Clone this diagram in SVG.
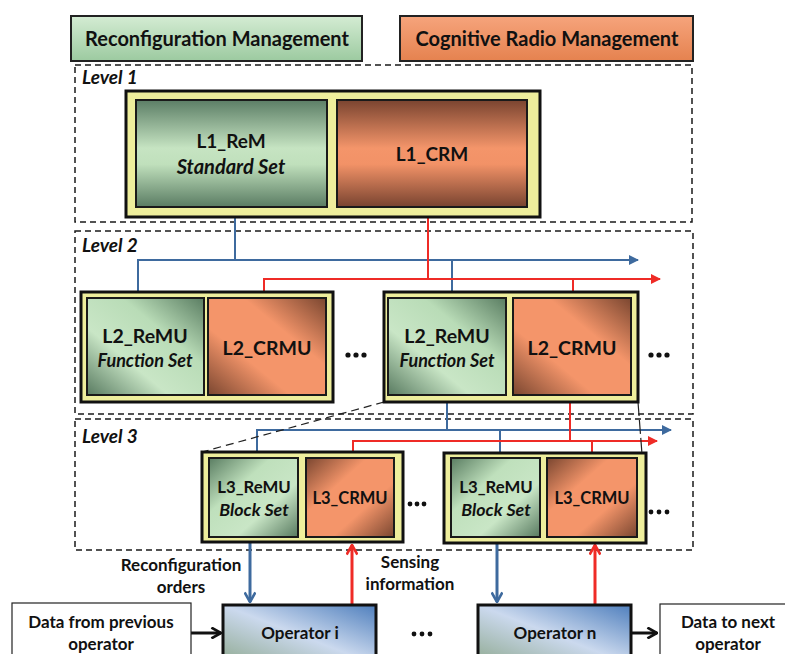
<svg xmlns="http://www.w3.org/2000/svg" width="785" height="654" viewBox="0 0 785 654">
<defs>
<linearGradient id="hdrG" x1="0" y1="0" x2="0" y2="1"><stop offset="0" stop-color="#d4ecd3"/><stop offset="1" stop-color="#9ccaa0"/></linearGradient>
<linearGradient id="hdrO" x1="0" y1="0" x2="0" y2="1"><stop offset="0" stop-color="#f6a47c"/><stop offset="1" stop-color="#e5824f"/></linearGradient>
<linearGradient id="g1" x1="0" y1="0" x2="0" y2="1"><stop offset="0" stop-color="#5c7e66"/><stop offset="0.45" stop-color="#c6e4c2"/><stop offset="0.6" stop-color="#c0e0bc"/><stop offset="1" stop-color="#5a7c63"/></linearGradient>
<linearGradient id="o1" x1="0" y1="0" x2="0" y2="1"><stop offset="0" stop-color="#7a4430"/><stop offset="0.45" stop-color="#f4956a"/><stop offset="0.6" stop-color="#f29267"/><stop offset="1" stop-color="#784330"/></linearGradient>
<linearGradient id="g2" x1="1" y1="0" x2="0" y2="1"><stop offset="0" stop-color="#5a7d62"/><stop offset="0.35" stop-color="#b9dcb7"/><stop offset="0.65" stop-color="#c9e6c6"/><stop offset="1" stop-color="#587a60"/></linearGradient>
<linearGradient id="o2" x1="1" y1="0" x2="0" y2="1"><stop offset="0" stop-color="#7a4630"/><stop offset="0.35" stop-color="#f4956a"/><stop offset="0.65" stop-color="#f4956a"/><stop offset="1" stop-color="#7a4630"/></linearGradient>
<linearGradient id="g3" x1="0" y1="0" x2="1" y2="1"><stop offset="0" stop-color="#5a7d62"/><stop offset="0.35" stop-color="#bfe0bc"/><stop offset="0.65" stop-color="#c9e6c6"/><stop offset="1" stop-color="#587a60"/></linearGradient>
<linearGradient id="o3" x1="0" y1="0" x2="1" y2="1"><stop offset="0" stop-color="#7a4630"/><stop offset="0.35" stop-color="#f4956a"/><stop offset="0.65" stop-color="#f4956a"/><stop offset="1" stop-color="#7a4630"/></linearGradient>
<linearGradient id="op" x1="1" y1="0" x2="0" y2="1"><stop offset="0" stop-color="#4f7fbd"/><stop offset="0.5" stop-color="#cbd9ee"/><stop offset="1" stop-color="#8fa990"/></linearGradient>
<marker id="ab" viewBox="0 0 10 10" refX="9" refY="5" markerWidth="5" markerHeight="5" orient="auto" markerUnits="strokeWidth"><path d="M0,0 L10,5 L0,10 z" fill="#3e6a9e"/></marker>
<marker id="ar" viewBox="0 0 10 10" refX="9" refY="5" markerWidth="5" markerHeight="5" orient="auto" markerUnits="strokeWidth"><path d="M0,0 L10,5 L0,10 z" fill="#ef2b26"/></marker>
<marker id="vb" viewBox="0 0 10 10" refX="9" refY="5" markerWidth="4" markerHeight="4" orient="auto" markerUnits="strokeWidth"><path d="M1,0.5 L9,5 L1,9.5" fill="none" stroke="#3e6a9e" stroke-width="2.2"/></marker>
<marker id="vr" viewBox="0 0 10 10" refX="9" refY="5" markerWidth="4" markerHeight="4" orient="auto" markerUnits="strokeWidth"><path d="M1,0.5 L9,5 L1,9.5" fill="none" stroke="#ef2b26" stroke-width="2.2"/></marker>
<marker id="vk" viewBox="0 0 10 10" refX="9" refY="5" markerWidth="4" markerHeight="4" orient="auto" markerUnits="strokeWidth"><path d="M1,0.5 L9,5 L1,9.5" fill="none" stroke="#111" stroke-width="2.2"/></marker>
</defs>
<style>
text{font-family:Lato,"Open Sans","Liberation Sans",sans-serif;font-weight:bold;fill:#111;}
.c{text-anchor:middle;}
.i{font-style:italic;}
.lvl{fill:none;stroke:#1a1a1a;stroke-width:1.5;stroke-dasharray:6,4;}
.outer{fill:#eeee9c;stroke:#111;stroke-width:3;}
.inner{stroke:#1a1a1a;stroke-width:2;}
.bl{fill:none;stroke:#3e6a9e;stroke-width:2;}
.rd{fill:none;stroke:#ef2b26;stroke-width:2;}
.dot{fill:#111;}
</style>
<rect width="785" height="654" fill="#fff"/>

<g id="header-rem"><rect x="71" y="16" width="291" height="45" fill="url(#hdrG)" stroke="#222" stroke-width="2"/><text x="217" y="46" class="c" font-size="20">Reconfiguration Management</text></g>
<g id="header-crm"><rect x="400" y="16" width="293" height="45" fill="url(#hdrO)" stroke="#222" stroke-width="2"/><text x="547" y="46" class="c" font-size="20">Cognitive Radio Management</text></g>

<g id="level1"><rect x="75" y="65" width="617" height="157" class="lvl"/><text x="82" y="84" class="i" font-size="19">Level 1</text></g>
<g id="level2"><rect x="75" y="231" width="618" height="183" class="lvl"/><text x="82" y="252" class="i" font-size="19">Level 2</text></g>
<g id="level3"><rect x="75" y="419" width="618" height="131" class="lvl"/><text x="82" y="443" class="i" font-size="19">Level 3</text></g>

<g id="connectors">
<path class="bl" d="M235,217 V260"/>
<path class="bl" d="M138,297 V260 H638" marker-end="url(#ab)"/>
<path class="bl" d="M452,260 V297"/>
<path class="rd" d="M428,217 V279"/>
<path class="rd" d="M264,297 V279 H660" marker-end="url(#ar)"/>
<path class="rd" d="M573,279 V297"/>
<path class="bl" d="M447,402 V430"/>
<path class="bl" d="M257,458 V430 H671" marker-end="url(#ab)"/>
<path class="bl" d="M500,430 V458"/>
<path class="rd" d="M570,402 V441"/>
<path class="rd" d="M353,458 V441 H657" marker-end="url(#ar)"/>
<path class="rd" d="M592,441 V458"/>
<path d="M384,402 L202,452" fill="none" stroke="#222" stroke-width="1.2" stroke-dasharray="8,5"/>
<path d="M638,402 L642,454" fill="none" stroke="#222" stroke-width="1.2" stroke-dasharray="14,4"/>
<path d="M250,543 V602" fill="none" stroke="#3e6a9e" stroke-width="3" marker-end="url(#vb)"/>
<path d="M352,605 V545" fill="none" stroke="#ef2b26" stroke-width="3" marker-end="url(#vr)"/>
<path d="M497,543 V602" fill="none" stroke="#3e6a9e" stroke-width="3" marker-end="url(#vb)"/>
<path d="M595,605 V545" fill="none" stroke="#ef2b26" stroke-width="3" marker-end="url(#vr)"/>
<path d="M191,633 H221" fill="none" stroke="#111" stroke-width="3" marker-end="url(#vk)"/>
<path d="M631,633 H657" fill="none" stroke="#111" stroke-width="3" marker-end="url(#vk)"/>
</g>

<g id="l1">
<rect x="126" y="91" width="414" height="126" class="outer"/>
<rect x="136" y="100" width="191" height="107" fill="url(#g1)" class="inner"/>
<rect x="337" y="100" width="190" height="107" fill="url(#o1)" class="inner"/>
<text x="231" y="148" class="c" font-size="19">L1_ReM</text>
<text x="231" y="174" class="c i" font-size="20">Standard Set</text>
<text x="432" y="161" class="c" font-size="19">L1_CRM</text>
</g>

<g id="l2a">
<rect x="81" y="292" width="252" height="110" class="outer"/>
<rect x="87" y="298" width="117" height="97" fill="url(#g2)" class="inner"/>
<rect x="208" y="298" width="118" height="97" fill="url(#o2)" class="inner"/>
<text x="145" y="343" class="c" font-size="19.5">L2_ReMU</text>
<text x="145" y="367" class="c i" font-size="18">Function Set</text>
<text x="267" y="355" class="c" font-size="19.5">L2_CRMU</text>
</g>
<g id="dots2a"><circle cx="348" cy="355" r="2.6" class="dot"/><circle cx="356" cy="355" r="2.6" class="dot"/><circle cx="364" cy="355" r="2.6" class="dot"/></g>

<g id="l2b">
<rect x="384" y="292" width="254" height="110" class="outer"/>
<rect x="388" y="298" width="118" height="97" fill="url(#g2)" class="inner"/>
<rect x="513" y="298" width="118" height="97" fill="url(#o2)" class="inner"/>
<text x="447" y="343" class="c" font-size="19.5">L2_ReMU</text>
<text x="447" y="367" class="c i" font-size="18">Function Set</text>
<text x="572" y="355" class="c" font-size="19.5">L2_CRMU</text>
</g>
<g id="dots2b"><circle cx="651" cy="355" r="2.6" class="dot"/><circle cx="659" cy="355" r="2.6" class="dot"/><circle cx="667" cy="355" r="2.6" class="dot"/></g>

<g id="l3a">
<rect x="202" y="452" width="201" height="90" class="outer"/>
<rect x="209" y="458" width="89" height="79" fill="url(#g3)" class="inner"/>
<rect x="306" y="458" width="88" height="79" fill="url(#o3)" class="inner"/>
<text x="254" y="493" class="c" font-size="16.8">L3_ReMU</text>
<text x="254" y="516" class="c i" font-size="17.8">Block Set</text>
<text x="350" y="504" class="c" font-size="16.5">L3_CRMU</text>
</g>
<g id="dots3a"><circle cx="410" cy="504" r="2.4" class="dot"/><circle cx="417" cy="504" r="2.4" class="dot"/><circle cx="424" cy="504" r="2.4" class="dot"/></g>

<g id="l3b">
<rect x="444" y="453" width="202" height="90" class="outer"/>
<rect x="451" y="458" width="89" height="79" fill="url(#g3)" class="inner"/>
<rect x="547" y="458" width="90" height="79" fill="url(#o3)" class="inner"/>
<text x="496" y="493" class="c" font-size="16.8">L3_ReMU</text>
<text x="496" y="516" class="c i" font-size="17.8">Block Set</text>
<text x="592" y="504" class="c" font-size="16.5">L3_CRMU</text>
</g>
<g id="dots3b"><circle cx="651" cy="512" r="2.4" class="dot"/><circle cx="659" cy="512" r="2.4" class="dot"/><circle cx="667" cy="512" r="2.4" class="dot"/></g>

<g id="lbl-orders"><text x="181" y="571" class="c" font-size="17">Reconfiguration</text><text x="181" y="593" class="c" font-size="17">orders</text></g>
<g id="lbl-sensing"><text x="410" y="568" class="c" font-size="17">Sensing</text><text x="410" y="590" class="c" font-size="17">information</text></g>

<g id="data-prev"><rect x="12" y="603" width="179" height="60" fill="#fff" stroke="#222" stroke-width="1.2"/><text x="101" y="628" class="c" font-size="17">Data from previous</text><text x="101" y="650" class="c" font-size="17">operator</text></g>
<g id="op-i"><rect x="223" y="605" width="153" height="60" fill="url(#op)" stroke="#111" stroke-width="3"/><text x="300" y="639" class="c" font-size="17">Operator i</text></g>
<g id="dots-op"><circle cx="414" cy="634" r="2.4" class="dot"/><circle cx="422" cy="634" r="2.4" class="dot"/><circle cx="430" cy="634" r="2.4" class="dot"/></g>
<g id="op-n"><rect x="478" y="605" width="153" height="60" fill="url(#op)" stroke="#111" stroke-width="3"/><text x="555" y="639" class="c" font-size="17">Operator n</text></g>
<g id="data-next"><rect x="660" y="604" width="140" height="60" fill="#fff" stroke="#222" stroke-width="1.2"/><text x="728" y="628" class="c" font-size="17">Data to next</text><text x="728" y="650" class="c" font-size="17">operator</text></g>
</svg>
